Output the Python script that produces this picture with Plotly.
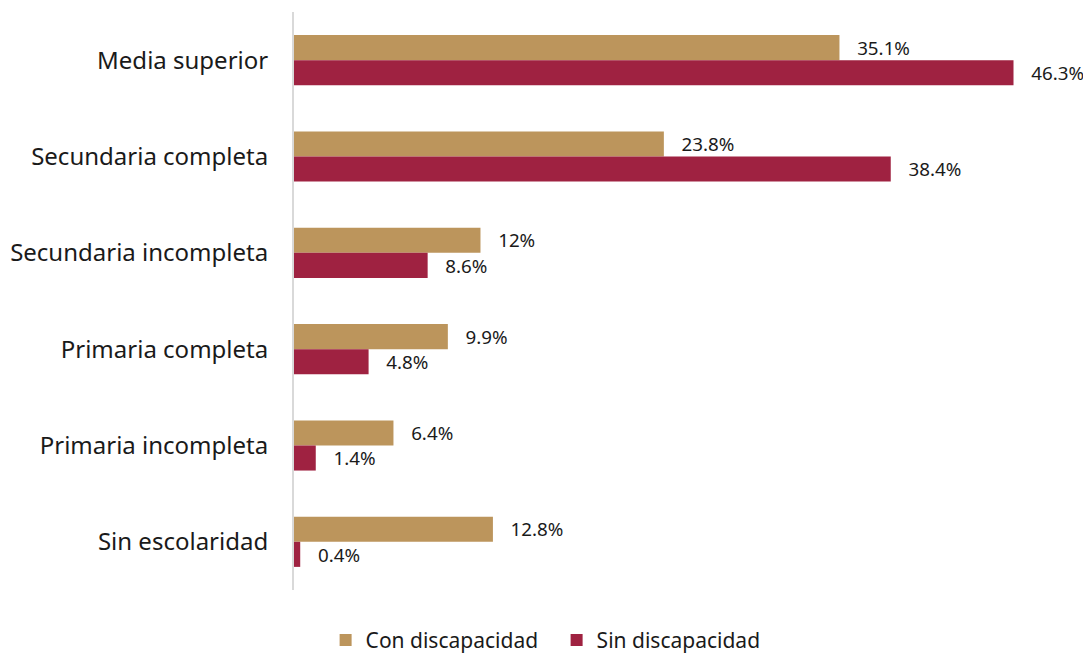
import plotly.graph_objects as go

categories = ["Media superior", "Secundaria completa", "Secundaria incompleta",
              "Primaria completa", "Primaria incompleta", "Sin escolaridad"]
con_discapacidad = [35.1, 23.8, 12.0, 9.9, 6.4, 12.8]
sin_discapacidad = [46.3, 38.4, 8.6, 4.8, 1.4, 0.4]
series_names = ["Con discapacidad", "Sin discapacidad"]
colors = ["#BC955C", "#9F2241"]

font_family = "Noto Sans, Open Sans, sans-serif"

# page body has an 8px default margin, so the figure is sized to fit inside it
W, H = 1083, 646

fig = go.Figure()
for name, vals, col in zip(series_names, [con_discapacidad, sin_discapacidad], colors):
    fig.add_trace(go.Bar(
        y=categories, x=vals, name=name, orientation="h",
        marker=dict(color=col, line=dict(width=0)),
        text=["   " + f"{v:g}%" for v in vals],
        textposition="outside",
        textfont=dict(size=21, color="#1a1a1a", family=font_family),
        cliponaxis=False,
        hoverinfo="skip",
    ))

fig.update_layout(
    width=W, height=H,
    barmode="group", bargap=0.48, bargroupgap=0,
    plot_bgcolor="white", paper_bgcolor="white",
    margin=dict(l=286, r=6, t=4, b=64, autoexpand=False),
    font=dict(family=font_family, color="#1a1a1a"),
    xaxis=dict(range=[0, 50.9], showgrid=False, zeroline=False,
               showticklabels=False, showline=False, automargin=False),
    yaxis=dict(autorange="reversed", showgrid=False, zeroline=False,
               showline=True, linecolor="#d9d9d9", linewidth=2,
               ticks="", tickfont=dict(size=24, color="#1a1a1a"),
               ticklabelstandoff=19, automargin=False),
    legend=dict(orientation="h", xref="paper", yref="paper",
                x=0.332, xanchor="center", y=-0.087, yanchor="middle",
                font=dict(size=21, color="#1a1a1a"),
                itemwidth=30, tracegroupgap=0, entrywidth=186),
    showlegend=True,
)

fig.write_html("out.html")
